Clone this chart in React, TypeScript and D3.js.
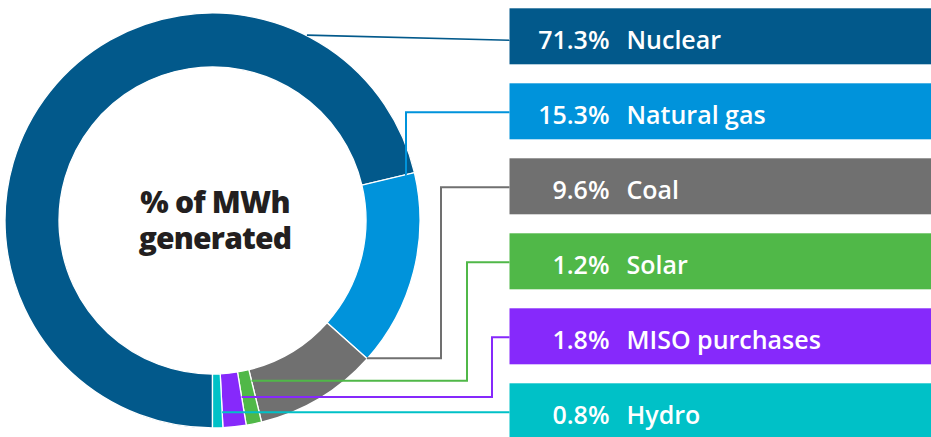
import React from 'react';
import * as d3 from 'd3';

const sources = ['Nuclear', 'Natural gas', 'Coal', 'Solar', 'MISO purchases', 'Hydro'];
const shares = [71.3, 15.3, 9.6, 1.2, 1.8, 0.8];
const shareLabels = ['71.3%', '15.3%', '9.6%', '1.2%', '1.8%', '0.8%'];
const colors = ['#02598b', '#0093db', '#707070', '#50b848', '#8629fb', '#00c1c7'];
const title = ['% of MWh', 'generated'];

const W = 931;
const H = 437;

const App = () => {
  const cx = 212.5;
  const cy = 220.5;
  const outerR = 207.5;
  const innerR = 153.5;

  const rows = sources.map((s, i) => ({ name: s, value: shares[i], label: shareLabels[i], color: colors[i] }));

  const pie = d3.pie<any>()
    .value(d => d.value)
    .sort(null)
    .startAngle(Math.PI)
    .endAngle(3 * Math.PI);
  const arcs = pie(rows);

  const arc = d3.arc<any>().innerRadius(innerR).outerRadius(outerR);

  // label boxes on the right
  const boxX = 509.5;
  const y = d3.scaleBand()
    .domain(sources)
    .range([8.3, 439.3])
    .paddingInner(0.2533)
    .paddingOuter(0);

  const pt = (angle, r) => [cx + r * Math.sin(angle), cy - r * Math.cos(angle)];

  // leader lines: start radius on the slice, elbow x (null = no elbow)
  const leaderRadius = [208, 199, 207, 165, 179, 192];
  const elbowX = [null, 406, 441, 467, 492, null];

  const leaders = arcs.map((a, i) => {
    const mid = y(a.data.name) + y.bandwidth() / 2;
    if (i === 0) {
      const s = pt((27 * Math.PI) / 180, leaderRadius[0]);
      return `M${s[0]},${s[1]}L${boxX},${mid + 4}`;
    }
    const s = pt(a.startAngle, leaderRadius[i]);
    if (elbowX[i] == null) {
      return `M${s[0]},${s[1]}H${boxX}`;
    }
    return `M${s[0]},${s[1]}H${elbowX[i]}V${mid + 1}H${boxX}`;
  });

  const titleFont = "'Open Sans', Lato, sans-serif";
  const labelFont = "'Open Sans', Lato, sans-serif";

  return (
    <svg width={W} height={H} style={{ position: 'absolute', left: 0, top: 0, background: '#fff' }}>
      <g transform={`translate(${cx},${cy})`}>
        {arcs.map((a, i) => (
          <path key={i} d={arc(a)} fill={a.data.color} stroke="#fff" strokeWidth={1.3} />
        ))}
      </g>
      {leaders.map((d, i) => (
        <path key={i} d={d} fill="none" stroke={colors[i]} strokeWidth={i === 0 ? 1.6 : 2} />
      ))}
      <text x={cx + 2.5} y={213} textAnchor="middle" fontFamily={titleFont} fontWeight={800} fontSize={30} letterSpacing={-0.8} fill="#231f20">
        {title[0]}
      </text>
      <text x={cx + 2.5} y={248.5} textAnchor="middle" fontFamily={titleFont} fontWeight={800} fontSize={30} letterSpacing={-0.8} fill="#231f20">
        {title[1]}
      </text>
      {rows.map((r, i) => {
        const top = y(r.name);
        const mid = top + y.bandwidth() / 2;
        return (
          <g key={r.name}>
            <rect x={boxX} y={top} width={W - boxX} height={y.bandwidth()} fill={r.color} />
            <text x={boxX + 100} y={mid + 12.5} textAnchor="end" fontFamily={labelFont} fontWeight={600} fontSize={25} fill="#fff">
              {r.label}
            </text>
            <text x={boxX + 117} y={mid + 12.5} fontFamily={labelFont} fontWeight={600} fontSize={25} fill="#fff">
              {r.name}
            </text>
          </g>
        );
      })}
    </svg>
  );
};

export default App;
